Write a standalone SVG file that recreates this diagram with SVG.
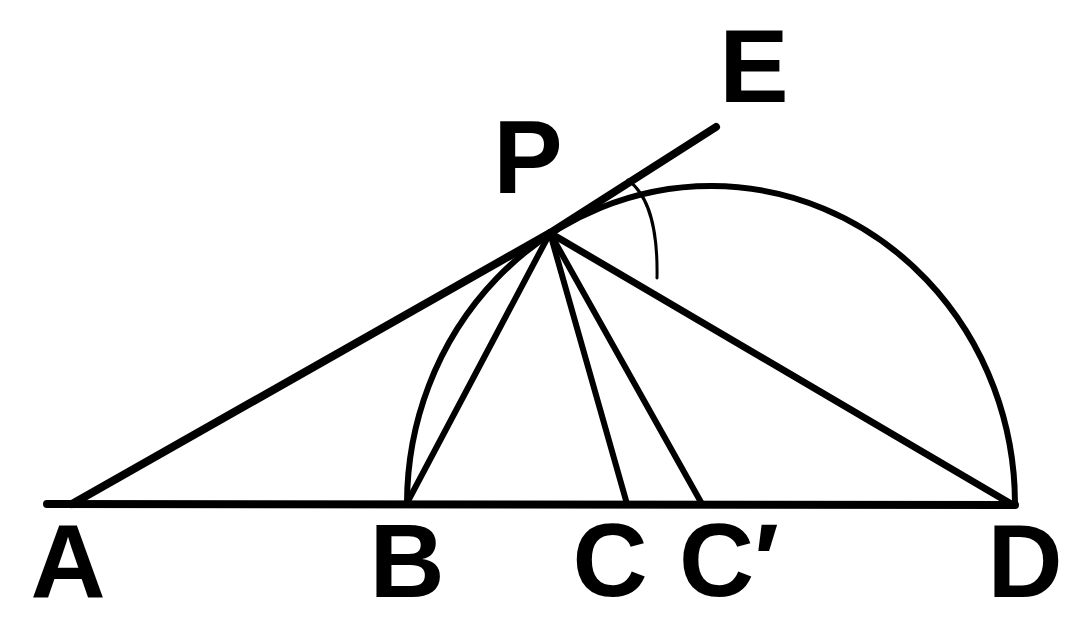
<svg xmlns="http://www.w3.org/2000/svg" width="1076" height="620" viewBox="0 0 1076 620">
<style>
.ln{stroke:#000;fill:none;stroke-linecap:round;stroke-linejoin:round}
.lbl{font-family:"Liberation Sans",Arial,sans-serif;font-weight:bold;font-size:104px;fill:#000;text-anchor:middle}
</style>
<rect width="1076" height="620" fill="#fff"/>
<g id="connectors">
<line class="ln" x1="47" y1="504" x2="1015" y2="505" stroke-width="8"/>
<line class="ln" x1="72" y1="504" x2="550" y2="233" stroke-width="8"/>
<line class="ln" x1="550" y1="233" x2="716" y2="127" stroke-width="8"/>
<line class="ln" x1="550" y1="233" x2="407" y2="503" stroke-width="6"/>
<line class="ln" x1="550" y1="233" x2="627" y2="504" stroke-width="6"/>
<line class="ln" x1="550" y1="233" x2="702" y2="504" stroke-width="6"/>
<line class="ln" x1="550" y1="233" x2="1013" y2="505" stroke-width="7"/>
<path class="ln" d="M407,503 A304,318 0 0 1 1015,505" stroke-width="6"/>
<path class="ln" d="M628,180 C648,195 658,225 657,278" stroke-width="3"/>
</g>
<g id="A"><text class="lbl" x="68" y="597">A</text></g>
<g id="B"><text class="lbl" x="407" y="597">B</text></g>
<g id="C"><text class="lbl" x="610" y="596">C</text></g>
<g id="C-prime"><text class="lbl" x="729" y="596">C′</text></g>
<g id="D"><text class="lbl" x="1025" y="597">D</text></g>
<g id="P"><text class="lbl" x="528" y="193">P</text></g>
<g id="E"><text class="lbl" x="754" y="102">E</text></g>
</svg>
